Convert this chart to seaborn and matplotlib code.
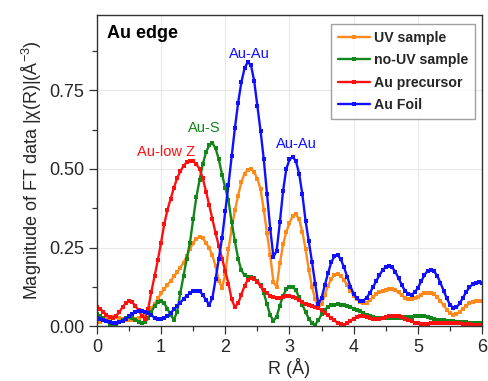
import numpy as np
import pandas as pd
import matplotlib
matplotlib.use("Agg")
import matplotlib.pyplot as plt
from matplotlib.ticker import MultipleLocator
import seaborn as sns

# ---------------- data ----------------
R = np.round(np.arange(0, 121) * 0.05, 2)

uv_sample = [
    0.012, 0.014, 0.018, 0.022, 0.026, 0.028, 0.028, 0.026, 0.022, 0.019,
    0.018, 0.019, 0.022, 0.027, 0.032, 0.037, 0.045, 0.057, 0.071, 0.088,
    0.104, 0.118, 0.131, 0.144, 0.158, 0.172, 0.186, 0.202, 0.222, 0.245,
    0.265, 0.278, 0.284, 0.280, 0.265, 0.248, 0.225, 0.190, 0.145, 0.122,
    0.165, 0.245, 0.310, 0.369, 0.415, 0.458, 0.485, 0.498, 0.501, 0.490,
    0.468, 0.435, 0.370, 0.295, 0.225, 0.140, 0.125, 0.200, 0.260, 0.300,
    0.328, 0.350, 0.356, 0.340, 0.300, 0.245, 0.180, 0.125, 0.085, 0.060,
    0.070, 0.100, 0.128, 0.150, 0.163, 0.166, 0.160, 0.146, 0.130, 0.112,
    0.097, 0.085, 0.076, 0.072, 0.074, 0.082, 0.092, 0.101, 0.108, 0.113,
    0.116, 0.117, 0.117, 0.114, 0.107, 0.098, 0.090, 0.086, 0.085, 0.088,
    0.094, 0.100, 0.104, 0.106, 0.106, 0.102, 0.093, 0.080, 0.066, 0.052,
    0.042, 0.037, 0.038, 0.045, 0.055, 0.064, 0.072, 0.077, 0.080, 0.081,
    0.080,
]

no_uv_sample = [
    0.039, 0.033, 0.025, 0.016, 0.008, 0.004, 0.005, 0.012, 0.020, 0.027,
    0.029, 0.027, 0.021, 0.014, 0.010, 0.012, 0.025, 0.045, 0.064, 0.076,
    0.079, 0.072, 0.056, 0.035, 0.021, 0.045, 0.105, 0.160, 0.215, 0.265,
    0.340, 0.410, 0.465, 0.515, 0.553, 0.575, 0.582, 0.565, 0.530, 0.482,
    0.440, 0.400, 0.330, 0.270, 0.215, 0.178, 0.162, 0.157, 0.156, 0.152,
    0.143, 0.130, 0.105, 0.070, 0.035, 0.017, 0.030, 0.065, 0.097, 0.117,
    0.125, 0.126, 0.114, 0.092, 0.068, 0.045, 0.024, 0.010, 0.005, 0.018,
    0.038, 0.052, 0.061, 0.066, 0.068, 0.069, 0.068, 0.066, 0.063, 0.060,
    0.056, 0.052, 0.047, 0.042, 0.037, 0.032, 0.028, 0.026, 0.025, 0.025,
    0.025, 0.026, 0.027, 0.027, 0.027, 0.027, 0.028, 0.029, 0.030, 0.031,
    0.032, 0.032, 0.032, 0.030, 0.027, 0.024, 0.021, 0.019, 0.018, 0.017,
    0.016, 0.015, 0.014, 0.013, 0.012, 0.012, 0.011, 0.011, 0.011, 0.011,
    0.010,
]

au_precursor = [
    0.060, 0.055, 0.046, 0.036, 0.028, 0.026, 0.032, 0.045, 0.060, 0.073,
    0.079, 0.076, 0.065, 0.050, 0.033, 0.022, 0.055, 0.110, 0.160, 0.210,
    0.265, 0.325, 0.370, 0.405, 0.440, 0.470, 0.492, 0.510, 0.521, 0.526,
    0.525, 0.515, 0.500, 0.470, 0.428, 0.385, 0.340, 0.295, 0.255, 0.215,
    0.175, 0.135, 0.085, 0.060, 0.072, 0.100, 0.128, 0.147, 0.153, 0.150,
    0.140, 0.127, 0.114, 0.104, 0.097, 0.093, 0.091, 0.091, 0.093, 0.095,
    0.095, 0.093, 0.088, 0.082, 0.076, 0.070, 0.066, 0.063, 0.060, 0.057,
    0.051, 0.043, 0.034, 0.026, 0.018, 0.011, 0.006, 0.005, 0.009, 0.017,
    0.024, 0.029, 0.031, 0.031, 0.029, 0.026, 0.024, 0.023, 0.024, 0.026,
    0.029, 0.031, 0.032, 0.032, 0.031, 0.028, 0.024, 0.019, 0.015, 0.011,
    0.009, 0.008, 0.008, 0.008, 0.009, 0.010, 0.010, 0.010, 0.010, 0.010,
    0.010, 0.010, 0.009, 0.009, 0.008, 0.007, 0.006, 0.005, 0.004, 0.003,
    0.003,
]

au_foil = [
    0.027, 0.024, 0.020, 0.016, 0.013, 0.011, 0.010, 0.012, 0.017, 0.024,
    0.031, 0.038, 0.044, 0.047, 0.048, 0.046, 0.041, 0.034, 0.027, 0.023,
    0.022, 0.025, 0.032, 0.042, 0.053, 0.064, 0.075, 0.086, 0.096, 0.105,
    0.111, 0.113, 0.111, 0.100, 0.083, 0.068, 0.090, 0.150, 0.215, 0.280,
    0.365, 0.450, 0.540, 0.630, 0.710, 0.775, 0.820, 0.840, 0.830, 0.780,
    0.700, 0.620, 0.530, 0.420, 0.310, 0.220, 0.240, 0.330, 0.430, 0.500,
    0.530, 0.538, 0.525, 0.485, 0.420, 0.335, 0.270, 0.205, 0.135, 0.070,
    0.090, 0.130, 0.168, 0.203, 0.222, 0.226, 0.212, 0.187, 0.156, 0.126,
    0.102, 0.088, 0.081, 0.081, 0.090, 0.105, 0.124, 0.143, 0.162, 0.178,
    0.188, 0.191, 0.187, 0.172, 0.152, 0.130, 0.112, 0.102, 0.100, 0.107,
    0.122, 0.142, 0.162, 0.176, 0.180, 0.175, 0.160, 0.138, 0.113, 0.088,
    0.068, 0.058, 0.060, 0.072, 0.090, 0.108, 0.123, 0.133, 0.138, 0.139,
    0.136,
]

series_names = ["UV sample", "no-UV sample", "Au precursor", "Au Foil"]
series_values = [uv_sample, no_uv_sample, au_precursor, au_foil]
series_colors = ["#FF8A1C", "#12861A", "#FF1010", "#1010FF"]

x_ticks = [0, 1, 2, 3, 4, 5, 6]
y_ticks = [0.00, 0.25, 0.50, 0.75]
y_tick_labels = ["0.00", "0.25", "0.50", "0.75"]

annotations = [
    ("Au-Au", 2.376, 0.867, "#1010FF"),
    ("Au-S", 1.677, 0.629, "#12861A"),
    ("Au-low Z", 1.076, 0.554, "#FF1010"),
    ("Au-Au", 3.11, 0.578, "#1010FF"),
]

# ---------------- plot ----------------
sns.set_theme(style="ticks")
plt.rcParams["font.family"] = ["Liberation Sans", "DejaVu Sans"]
plt.rcParams["mathtext.fontset"] = "custom"
plt.rcParams["mathtext.rm"] = "Liberation Sans"
plt.rcParams["mathtext.default"] = "regular"

fig = plt.figure(figsize=(4.89, 3.81), dpi=100)
ax = fig.add_axes([0.198, 0.144, 0.788, 0.817])

for name, vals, col in zip(series_names, series_values, series_colors):
    df = pd.DataFrame({"R": R, "v": vals})
    sns.lineplot(data=df, x="R", y="v", ax=ax, color=col, label=name,
                 linewidth=1.7, marker="s", markersize=3.2,
                 markeredgewidth=0, markerfacecolor=col)

ax.set_xlim(0, 6)
ax.set_ylim(0, 0.99)
ax.set_xticks(x_ticks)
ax.set_xticklabels([str(t) for t in x_ticks])
ax.set_yticks(y_ticks)
ax.set_yticklabels(y_tick_labels)
ax.xaxis.set_minor_locator(MultipleLocator(0.5))
ax.yaxis.set_minor_locator(MultipleLocator(0.125))
ax.tick_params(axis="both", which="major", direction="out", length=6,
               width=0.9, labelsize=13, pad=3, color="#333333",
               top=False, right=False)
ax.tick_params(axis="both", which="minor", direction="out", length=3.5,
               width=0.9, color="#333333", top=False, right=False)
ax.grid(True, which="major", color="#e8e8e8", linewidth=0.8)
ax.set_axisbelow(True)
for sp in ax.spines.values():
    sp.set_color("#333333")
    sp.set_linewidth(1.0)

ax.set_xlabel("R (Å)", fontsize=13, labelpad=2)
ax.set_ylabel("Magnitude of FT data |χ(R)|(Å$^{-3}$)", fontsize=13, labelpad=4)

ax.text(0.155, 0.931, "Au edge", fontsize=13, fontweight="bold",
        ha="left", va="center", color="black")
for txt, xx, yy, col in annotations:
    ax.text(xx, yy, txt, fontsize=10.5, color=col, ha="center", va="center")

leg = ax.legend(loc="upper right", bbox_to_anchor=(0.982, 0.972),
                borderaxespad=0, frameon=True, fancybox=False,
                prop={"weight": "bold", "size": 10.2}, handlelength=2.3,
                handletextpad=0.25, labelspacing=0.6, borderpad=0.5)
leg.get_frame().set_edgecolor("#888888")
leg.get_frame().set_linewidth(1.0)

fig.savefig("out.png", dpi=100)
